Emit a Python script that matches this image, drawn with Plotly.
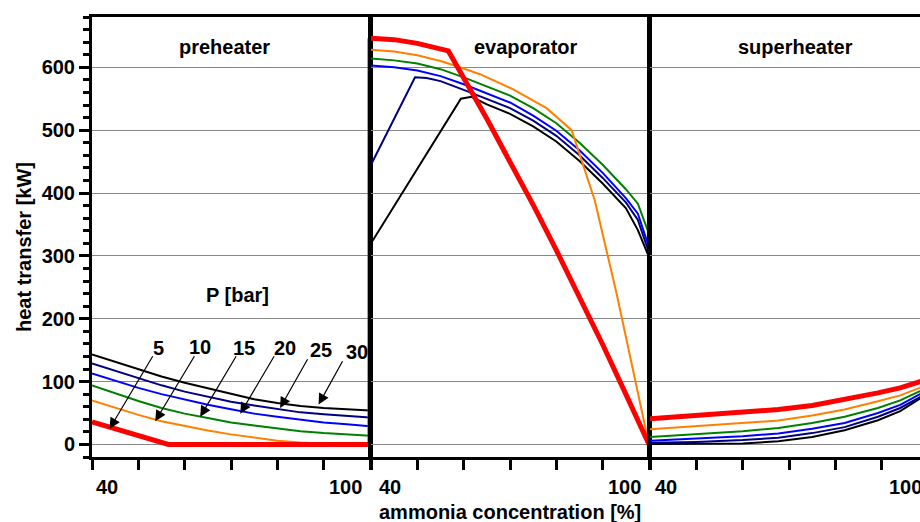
import plotly.graph_objects as go

# ---------------- data ----------------
pressures = ["5", "10", "15", "20", "25", "30"]
colors = ["#FF0000", "#FF8000", "#008000", "#0000FF", "#000080", "#000000"]
widths = [5, 2, 2, 2, 2, 2]

# preheater
pre_x = [40, 45, 50, 55, 60, 65, 70, 75, 80, 85, 90, 95, 100]
pre_x_5 = [40, 56.5, 100]
pre_5 = [36, 0, 0]
pre_10 = [70, 58, 47, 37, 29, 22, 16, 11, 6, 3, 1, 0.5, 0.5]
pre_15 = [94, 81, 69, 58, 49, 42, 35, 30, 25, 21, 18, 16, 14]
pre_20 = [113, 101, 90, 80, 71, 63, 56, 49, 44, 39, 35, 32, 29]
pre_25 = [129, 117, 105, 94, 84, 76, 68, 62, 56, 51, 48, 45, 43]
pre_30 = [143, 131, 119, 108, 98, 89, 80, 72, 66, 61, 58, 56, 54]

# evaporator
eva_x_5 = [40, 45, 50, 56.7, 65, 70, 75, 80, 85, 90, 95, 100]
eva_5 = [646, 644, 638, 626, 518, 451, 381, 309, 235, 159, 80, 0]
eva_x_10 = [40, 45, 50, 55, 59.2, 63.5, 70.7, 77.9, 83.3, 88.3, 93, 100]
eva_10 = [628, 625, 619, 610, 600, 589, 565, 535, 500, 388, 240, 0]
eva_x = [40, 45, 50, 55, 60, 65, 70, 75, 80, 85, 90, 95, 97.6, 100]
eva_15 = [614, 611, 606, 597, 584, 570, 555, 535, 511, 480, 445, 406, 383, 335]
eva_20 = [603, 600, 595, 586, 573, 559, 544, 523, 499, 468, 432, 392, 367, 314]
eva_x_25 = [40, 49.5, 52, 55, 60, 65, 70, 75, 80, 85, 90, 95, 97.6, 100]
eva_25 = [445, 584, 583, 578, 564, 550, 535, 515, 491, 460, 424, 385, 357, 305]
eva_x_30 = [40, 59.4, 61.7, 65, 70, 75, 80, 85, 90, 95, 97.6, 100]
eva_30 = [320, 550, 553, 541, 526, 506, 482, 451, 415, 376, 341, 298]

# superheater
sup_x = [40, 50, 60, 67.7, 75, 82, 89.2, 94, 98.2, 100]
sup_5 = [40.7, 46, 51, 55.5, 62, 71, 82, 90, 99, 104]
sup_10 = [24, 29, 33.5, 38, 46, 55.5, 68.6, 78, 90, 96]
sup_15 = [12, 16, 21, 26, 34, 44, 58, 70, 84, 91]
sup_20 = [6, 9, 13, 17.4, 25, 34, 50, 63, 79, 87]
sup_25 = [2.6, 4, 7, 10.6, 18, 27.5, 44, 58, 75, 84]
sup_30 = [0.5, 0.5, 1.5, 5, 12, 22.7, 38.5, 53, 72, 81]

panel_titles = ["preheater", "evaporator", "superheater"]
x_tick_labels = ["40", "100"]
y_title = "heat transfer [kW]"
x_title = "ammonia concentration [%]"
legend_title = "P [bar]"

# ---------------- assemble ----------------
pre = [(pre_x_5, pre_5), (pre_x, pre_10), (pre_x, pre_15), (pre_x, pre_20), (pre_x, pre_25), (pre_x, pre_30)]
eva = [(eva_x_5, eva_5), (eva_x_10, eva_10), (eva_x, eva_15), (eva_x, eva_20), (eva_x_25, eva_25), (eva_x_30, eva_30)]
sup = [(sup_x, sup_5), (sup_x, sup_10), (sup_x, sup_15), (sup_x, sup_20), (sup_x, sup_25), (sup_x, sup_30)]

FONT = "Liberation Sans, Arial, Helvetica, sans-serif"
W, H = 920, 522
ML, MR, MT, MB = 92, 0, 17, 65
PW = W - ML - MR
PH = H - MT - MB
panel_px = 278
d1 = [0, panel_px / PW]
d2 = [(panel_px + 1) / PW, (2 * panel_px + 1) / PW]
d3 = [(2 * panel_px + 2) / PW, 1]
x3_max = 40 + (PW - (2 * panel_px + 2)) / panel_px * 60
y_range = [-20, 680]

fig = go.Figure()
order = [5, 4, 3, 2, 1, 0]  # draw black first, red last
for i in order:
    c, w = colors[i], widths[i]
    fig.add_trace(go.Scatter(x=pre[i][0], y=pre[i][1], mode="lines", line=dict(color=c, width=w),
                             xaxis="x", yaxis="y", showlegend=False, hoverinfo="skip"))
    # connector to evaporator start at the panel boundary
    fig.add_trace(go.Scatter(x=[pre[i][0][-1], pre[i][0][-1]], y=[pre[i][1][-1], eva[i][1][0]], mode="lines",
                             line=dict(color=c, width=w), xaxis="x", yaxis="y", showlegend=False, hoverinfo="skip"))
    fig.add_trace(go.Scatter(x=eva[i][0], y=eva[i][1], mode="lines", line=dict(color=c, width=w),
                             xaxis="x2", yaxis="y2", showlegend=False, hoverinfo="skip"))
    fig.add_trace(go.Scatter(x=sup[i][0], y=sup[i][1], mode="lines", line=dict(color=c, width=w),
                             xaxis="x3", yaxis="y3", showlegend=False, hoverinfo="skip"))

xcommon = dict(range=[40, 100], showline=True, linewidth=3, linecolor="black", mirror=True,
               ticks="outside", ticklen=10, tickwidth=3, tickcolor="black", dtick=10, tick0=40,
               showticklabels=False, showgrid=False, zeroline=False)
ycommon = dict(range=y_range, showline=True, linewidth=3, linecolor="black",
               showgrid=True, gridcolor="#888888", gridwidth=1, zeroline=False, dtick=100, tick0=0)

fig.update_layout(
    width=W, height=H, margin=dict(l=ML, r=MR, t=MT, b=MB),
    paper_bgcolor="white", plot_bgcolor="white",
    font=dict(family=FONT, size=20, color="black"),
    xaxis=dict(xcommon, domain=d1, anchor="y"),
    xaxis2=dict(xcommon, domain=d2, anchor="y2"),
    xaxis3=dict(xcommon, domain=d3, anchor="y3", range=[40, x3_max]),
    yaxis=dict(ycommon, anchor="x", mirror=True, ticks="outside", ticklen=10, tickwidth=3, tickcolor="black",
               tickfont=dict(family=FONT, size=20, weight="bold"),
               minor=dict(dtick=20, tick0=0, ticks="outside", ticklen=6, tickwidth=3, tickcolor="black", showgrid=False)),
    yaxis2=dict(ycommon, anchor="x2", matches="y", mirror=True, ticks="", showticklabels=False),
    yaxis3=dict(ycommon, anchor="x3", matches="y", mirror=False, ticks="", showticklabels=False),
)

ann = []
bold = dict(family=FONT, size=20, color="black", weight="bold")
# panel titles
title_x = [68.7, 73.4, 71.4]
for k, (t, xr) in enumerate(zip(panel_titles, ["x", "x2", "x3"])):
    ann.append(dict(text=t, x=title_x[k], y=633, xref=xr, yref="y", showarrow=False, font=bold,
                    xanchor="center", yanchor="middle"))
# x tick labels (40 / 100) per panel
lab_y = -(486.7 - (H - MB)) / PH
shift40 = [2, 6, 3]
for k, xr in enumerate(["x", "x2", "x3"]):
    ann.append(dict(text=x_tick_labels[0], x=40, y=lab_y, xref=xr, yref="paper", showarrow=False, font=bold,
                    xanchor="left", yanchor="middle", xshift=shift40[k]))
for xr in ["x", "x2"]:
    ann.append(dict(text=x_tick_labels[1], x=100, y=lab_y, xref=xr, yref="paper", showarrow=False, font=bold,
                    xanchor="right", yanchor="middle", xshift=-6))
# third panel's 100 lies beyond the visible window -> place via paper coords from its scale
x100_paper = d3[0] + (100 - 40) / (x3_max - 40) * (d3[1] - d3[0])
ann.append(dict(text=x_tick_labels[1], x=x100_paper, y=lab_y, xref="paper", yref="paper", showarrow=False,
                font=bold, xanchor="right", yanchor="middle", xshift=-4))
# axis titles
ann.append(dict(text=x_title, x=(509.5 - ML) / PW, y=-(512 - (H - MB)) / PH, xref="paper", yref="paper",
                showarrow=False, font=bold, xanchor="center", yanchor="middle"))
ann.append(dict(text=y_title, x=(23.3 - ML) / PW, y=((H - MB) - 246.7) / PH, xref="paper", yref="paper",
                showarrow=False, font=bold, xanchor="center", yanchor="middle", textangle=-90))
# legend-like labels with arrows
ann.append(dict(text=legend_title, x=71.3, y=238, xref="x", yref="y", showarrow=False, font=bold))
lab_pos = [(54.36, 153.7), (63.35, 155.3), (72.7, 153.7), (81.7, 153.7), (89.4, 150.6), (97.2, 147.4)]
arrow_tail = [(53.3, 142.6), (62.3, 142.6), (71.3, 142.6), (79.5, 142.6), (86.7, 137.9), (94.25, 134.7)]
arrow_head = [(43.8, 25), (53.65, 37), (63.35, 44), (72, 49), (80.6, 58), (88.9, 63.4)]
for k, p in enumerate(pressures):
    ann.append(dict(text=p, x=lab_pos[k][0], y=lab_pos[k][1], xref="x", yref="y", showarrow=False, font=bold))
    ann.append(dict(text="", x=arrow_head[k][0], y=arrow_head[k][1], ax=arrow_tail[k][0], ay=arrow_tail[k][1],
                    xref="x", yref="y", axref="x", ayref="y", showarrow=True, arrowhead=2, arrowsize=1.8,
                    arrowwidth=1.2, arrowcolor="black", standoff=0, startstandoff=0))
fig.update_layout(annotations=ann)

fig.write_html("out.html")
